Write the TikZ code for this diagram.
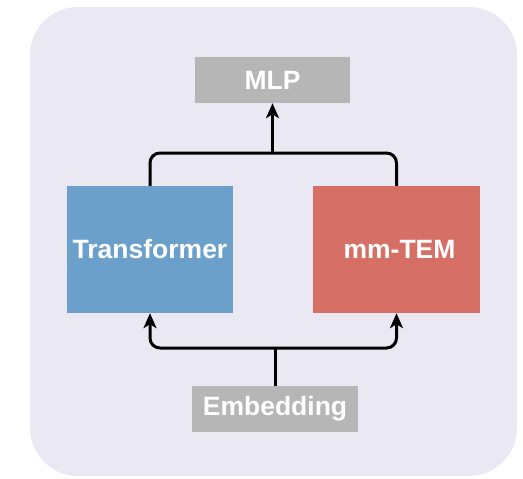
\documentclass[tikz,border=0pt]{standalone}
\usepackage{fontspec}
\setmainfont{Liberation Sans}
\usetikzlibrary{arrows.meta}
\definecolor{bgc}{HTML}{EAE8F3}
\definecolor{grayc}{HTML}{B5B6B5}
\definecolor{bluec}{HTML}{6BA0CB}
\definecolor{redc}{HTML}{D67066}
\begin{document}
\begin{tikzpicture}[x=1pt,y=-1pt,
  box/.style={draw=none, inner sep=0pt, text=white, font=\fontsize{26.5}{30}\selectfont\bfseries},
  conn/.style={line width=3pt, black, rounded corners=10pt},
  arr/.style={conn, -{Stealth[length=15pt,width=13pt,inset=4pt]}}]
\useasboundingbox (0,0) rectangle (523,479);
\fill[bgc, rounded corners=48pt] (30,7) rectangle (517,476);
\node[box, fill=grayc, minimum width=155pt, minimum height=46pt] (mlp) at (272.5,80) {MLP};
\node[box, fill=bluec, minimum width=166pt, minimum height=127pt] (tr) at (150,249.5) {Transformer};
\node[box, fill=redc, minimum width=167pt, minimum height=127pt] (tem) at (396.5,249.5) {\hspace*{6pt}mm-TEM};
\node[box, fill=grayc, minimum width=166pt, minimum height=46pt] (emb) at (275,409) {Embedding};
\coordinate (tj) at (272.5,153);
\coordinate (bj) at (275,348);
\draw[conn] (tr.north) |- (tj) -| (tem.north);
\draw[arr] (tj) -- (mlp.south);
\draw[conn] (emb.north) -- (bj);
\draw[arr] (bj) -| (tr.south);
\draw[arr] (bj) -| (tem.south);
\end{tikzpicture}
\end{document}
